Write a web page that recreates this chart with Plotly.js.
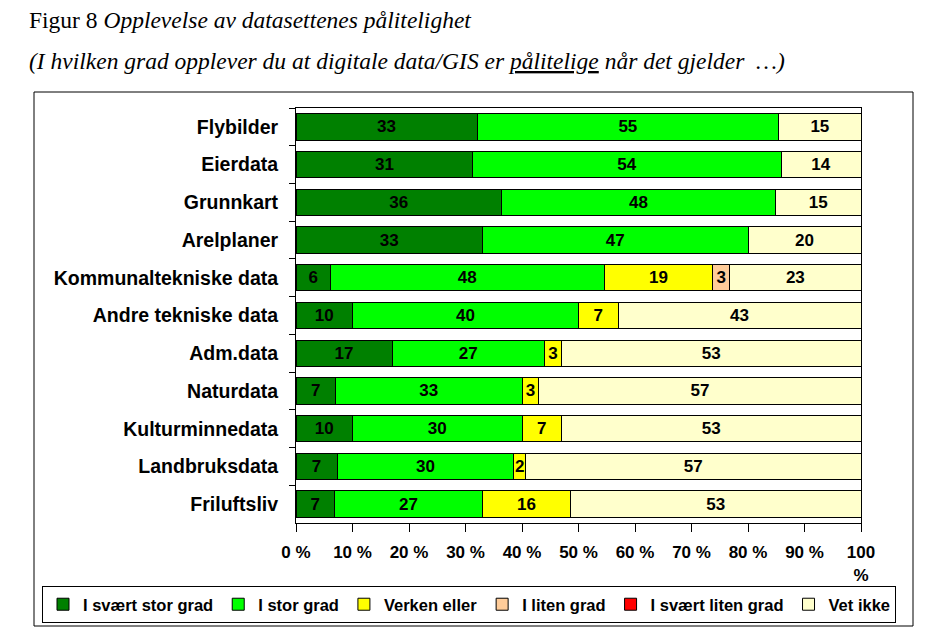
<!DOCTYPE html>
<html>
<head>
<meta charset="utf-8">
<script src="https://cdn.plot.ly/plotly-3.0.1.min.js"></script>
<style>body{margin:0;background:#fff}</style>
</head>
<body>
<div id="chart" style="width:948px;height:641px"></div>
<script>
// categories, top to bottom
const categories = ['Flybilder', 'Eierdata', 'Grunnkart', 'Arelplaner', 'Kommunaltekniske data',
    'Andre tekniske data', 'Adm.data', 'Naturdata', 'Kulturminnedata', 'Landbruksdata', 'Friluftsliv'];

const seriesNames = ['I svært stor grad', 'I stor grad', 'Verken eller', 'I liten grad', 'I svært liten grad', 'Vet ikke'];
const seriesColors = ['#008000', '#00FF00', '#FFFF00', '#FFCC99', '#FF0000', '#FFFFCC'];

const veryHigh = [33, 31, 36, 33, 6, 10, 17, 7, 10, 7, 7];
const high     = [55, 54, 48, 47, 48, 40, 27, 33, 30, 30, 27];
const neither  = [0, 0, 0, 0, 19, 7, 3, 3, 7, 2, 16];
const low      = [0, 0, 0, 0, 3, 0, 0, 0, 0, 0, 0];
const veryLow  = [0, 0, 0, 0, 0, 0, 0, 0, 0, 0, 0];
const dontKnow = [15, 14, 15, 20, 23, 43, 53, 57, 53, 57, 53];

const tickVals = [0, 10, 20, 30, 40, 50, 60, 70, 80, 90, 100];
const tickText = ['0 %', '10 %', '20 %', '30 %', '40 %', '50 %', '60 %', '70 %', '80 %', '90 %', '100<br>%'];

const sansBold = 'Liberation Sans, Arial, sans-serif';
const serif = 'Liberation Serif, Times New Roman, serif';

const allSeries = [veryHigh, high, neither, low, veryLow, dontKnow];

// zero answers get no segment and no label
const data = allSeries.map((vals, i) => ({
    type: 'bar',
    orientation: 'h',
    name: seriesNames[i],
    y: categories,
    x: vals.map(v => v === 0 ? null : v),
    text: vals.map(v => v === 0 ? '' : String(v)),
    textposition: 'inside',
    insidetextanchor: 'middle',
    textangle: 0,
    constraintext: 'none',
    textfont: { family: sansBold, size: 17, color: '#000', weight: 'bold' },
    marker: { color: seriesColors[i], line: { color: '#000', width: 1 } },
    hoverinfo: 'none'
}));

// helpers for placing things in pixel terms relative to the plot area
const plotL = 296, plotR = 861, plotT = 108, plotB = 523;
const px = x => (x - plotL) / (plotR - plotL);
const py = y => (plotB - y) / (plotB - plotT);

const layout = {
    width: 948,
    height: 641,
    margin: { l: plotL, r: 948 - plotR, t: plotT, b: 641 - plotB },
    paper_bgcolor: '#fff',
    plot_bgcolor: '#fff',
    barmode: 'stack',
    barnorm: 'percent',
    bargap: 0.3,
    showlegend: true,
    xaxis: {
        range: [0, 100],
        tickvals: tickVals,
        ticktext: tickText,
        ticks: 'outside',
        ticklen: 8,
        tickcolor: '#000',
        ticklabelstandoff: 6,
        showline: true,
        linecolor: '#000',
        linewidth: 1,
        mirror: true,
        showgrid: false,
        zeroline: false,
        fixedrange: true,
        tickfont: { family: sansBold, size: 17, color: '#000', weight: 'bold' }
    },
    yaxis: {
        type: 'category',
        autorange: 'reversed',
        ticks: 'outside',
        tickson: 'boundaries',
        ticklen: 6,
        tickcolor: '#000',
        ticklabelstandoff: 13,
        showline: true,
        linecolor: '#000',
        linewidth: 1,
        mirror: true,
        showgrid: false,
        fixedrange: true,
        tickfont: { family: sansBold, size: 19.5, color: '#000', weight: 'bold' }
    },
    legend: {
        orientation: 'h',
        traceorder: 'normal',
        x: px(42),
        xanchor: 'left',
        y: py(586),
        yanchor: 'top',
        bordercolor: '#000',
        borderwidth: 1,
        itemclick: false,
        itemdoubleclick: false,
        font: { family: sansBold, size: 16.5, color: '#000', weight: 'bold' }
    },
    annotations: [
        {
            text: 'Figur 8 <i>Opplevelse av datasettenes pålitelighet</i>',
            xref: 'paper', yref: 'paper',
            x: px(27), y: py(20),
            xanchor: 'left', yanchor: 'middle',
            showarrow: false,
            font: { family: serif, size: 23.5, color: '#000' }
        },
        {
            text: '<i>(I hvilken grad opplever du at digitale data/GIS er <u>pålitelige</u> når det gjelder  …)</i>',
            xref: 'paper', yref: 'paper',
            x: px(27), y: py(61),
            xanchor: 'left', yanchor: 'middle',
            showarrow: false,
            font: { family: serif, size: 23.5, color: '#000' }
        }
    ],
    shapes: [
        {
            type: 'rect',
            xref: 'paper', yref: 'paper',
            x0: px(34), x1: px(913),
            y0: py(626), y1: py(92),
            line: { color: '#000', width: 1 },
            fillcolor: 'rgba(0,0,0,0)',
            layer: 'below'
        }
    ]
};

Plotly.newPlot('chart', data, layout, { staticPlot: true, displayModeBar: false });
</script>
</body>
</html>
